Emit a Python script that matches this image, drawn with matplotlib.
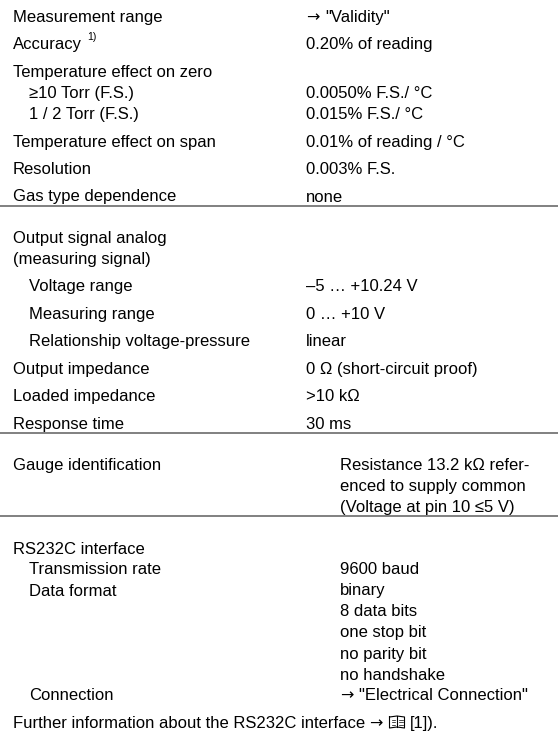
import matplotlib
matplotlib.use("Agg")
import matplotlib.pyplot as plt

plt.rcParams['font.family'] = ['Liberation Sans', 'DejaVu Sans']

# table content, one list per section
sec1_labels = ["Measurement range", "Accuracy", "Temperature effect on zero",
               "\u226510 Torr (F.S.)", "1 / 2 Torr (F.S.)",
               "Temperature effect on span", "Resolution", "Gas type dependence"]
sec1_values = ["\u2192 \"Validity\"", "0.20% of reading", "",
               "0.0050% F.S./ \u00b0C", "0.015% F.S./ \u00b0C",
               "0.01% of reading / \u00b0C", "0.003% F.S.", "none"]

sec2_labels = ["Output signal analog", "(measuring signal)", "Voltage range",
               "Measuring range", "Relationship voltage-pressure",
               "Output impedance", "Loaded impedance", "Response time"]
sec2_values = ["", "", "\u20135 \u2026 +10.24 V", "0 \u2026 +10 V", "linear",
               "0 \u03a9 (short-circuit proof)", ">10 k\u03a9", "30 ms"]

sec3_labels = ["Gauge identification", "", ""]
sec3_values = ["Resistance 13.2 k\u03a9 refer-", "enced to supply common",
               "(Voltage at pin 10 \u22645 V)"]

sec4_labels = ["RS232C interface", "Transmission rate", "Data format", "", "",
               "", "", "Connection"]
sec4_values = ["", "9600 baud", "binary", "8 data bits", "one stop bit",
               "no parity bit", "no handshake", "\u2192 \"Electrical Connection\""]

footnote_pre = "Further information about the RS232C interface \u2192"
footnote_post = "[1])."

# layout: indent flag and gap before each row ('r' row, 's' tight, 'g' section)
sec1_indent = [0, 0, 0, 1, 1, 0, 0, 0]
sec1_gap = ['-', 'r', 'r', 's', 's', 'r', 'r', 'r']
sec2_indent = [0, 0, 1, 1, 1, 0, 0, 0]
sec2_gap = ['g', 's', 'r', 'r', 'r', 'r', 'r', 'r']
sec3_indent = [0, 0, 0]
sec3_gap = ['g', 's', 's']
sec4_indent = [0, 1, 1, 1, 1, 1, 1, 1]
sec4_gap = ['g', 's', 's', 's', 's', 's', 's', 's']

W, H = 558, 734
fig = plt.figure(figsize=(W / 100, H / 100), dpi=100)
ax = fig.add_axes([0, 0, 1, 1])
ax.set_xlim(0, W)
ax.set_ylim(H, 0)
ax.axis('off')
fig.canvas.draw()
renderer = fig.canvas.get_renderer()

FS = 12
base_off = 6          # baseline sits this far below the row centre
line_off = 10
step = {'r': 27.5, 's': 21.0}
n_r = sum(g == 'r' for g in sec1_gap + sec2_gap + sec3_gap + sec4_gap) + 1
n_s = sum(g == 's' for g in sec1_gap + sec2_gap + sec3_gap + sec4_gap)
y_first, y_last = 16, 722
step['g'] = (y_last - y_first - n_r * step['r'] - n_s * step['s']) / 3


def width(t):
    return t.get_window_extent(renderer).width


def put(x, y, s):
    # arrows are drawn in DejaVu Sans, which has a full-size glyph
    parts = s.split("\u2192")
    t = None
    for i, p in enumerate(parts):
        if i > 0:
            a = ax.text(x, y + base_off, "\u2192", fontsize=FS - 0.5,
                        va='baseline', family='DejaVu Sans')
            x += width(a) + 2
        p = p.strip() if i > 0 else p.rstrip()
        if p:
            if i > 0:
                x += 4
            t = ax.text(x, y + base_off, p, fontsize=FS, va='baseline')
            x += width(t) + 4
    return t, x


x_left, x_ind = 13, 29
sections = [
    (sec1_labels, sec1_values, sec1_indent, sec1_gap, 306),
    (sec2_labels, sec2_values, sec2_indent, sec2_gap, 306),
    (sec3_labels, sec3_values, sec3_indent, sec3_gap, 340),
    (sec4_labels, sec4_values, sec4_indent, sec4_gap, 340),
]

y = y_first
for k, (labels, values, indent, gaps, x_val) in enumerate(sections):
    for lab, val, ind, g in zip(labels, values, indent, gaps):
        if g != '-':
            y += step[g]
        if lab:
            t, xe = put(x_ind if ind else x_left, y, lab)
            if lab == "Accuracy":
                ax.text(xe + 1, y - 3, "1)", fontsize=7.5, va='baseline')
        if val:
            put(x_val, y, val)
    if k < 3:
        ly = y + line_off
        ax.plot([0, W], [ly, ly], color='#808080', lw=1.4, solid_capstyle='butt')

y += step['r']
t, bx = put(x_left, y, footnote_pre)
bx += 5
# open-book icon (no installed font has U+1F56E)
bw, bh = 15, 12
by = y - bh / 2
ax.plot([bx, bx + bw / 2, bx + bw, bx + bw, bx + bw / 2, bx, bx],
        [by + 1, by, by + 1, by + bh, by + bh - 1, by + bh, by + 1],
        color='black', lw=0.8)
ax.plot([bx + bw / 2, bx + bw / 2], [by, by + bh - 1], color='black', lw=0.8)
for i in range(1, 4):
    yy = by + 1 + i * 2.5
    ax.plot([bx + 2, bx + bw / 2 - 2], [yy, yy], color='black', lw=0.5)
    ax.plot([bx + bw / 2 + 2, bx + bw - 2], [yy, yy], color='black', lw=0.5)
ax.text(bx + bw + 5, y + base_off, footnote_post, fontsize=FS, va='baseline')

fig.savefig("out.png", dpi=100)
